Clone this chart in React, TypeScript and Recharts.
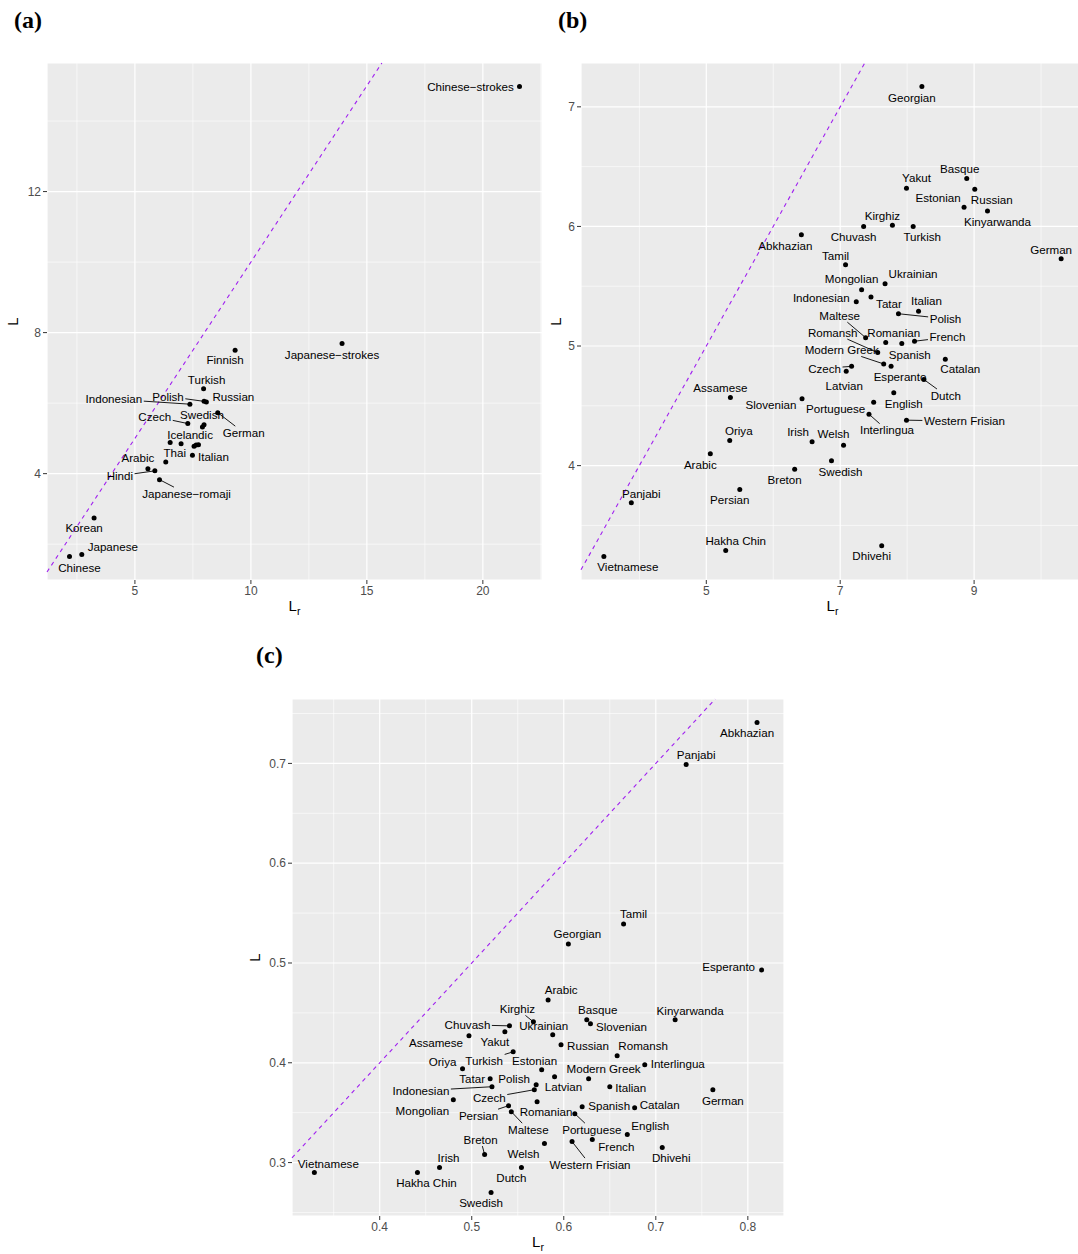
import React from 'react';
import { ScatterChart, Scatter, XAxis, YAxis, CartesianGrid, ReferenceLine, Label } from 'recharts';

const FONT = '"Liberation Sans", Arial, Helvetica, sans-serif';
const M = '\u2212';

// ---------------- Panel (a) ----------------
const langA = [
  `Chinese${M}strokes`, `Japanese${M}strokes`, 'Finnish', 'Turkish', 'Polish', 'Russian', 'Indonesian',
  'Czech', 'Swedish', 'German', '', '', 'Icelandic', '', '', '', 'Italian', 'Thai', 'Arabic', 'Hindi',
  `Japanese${M}romaji`, 'Korean', 'Japanese', 'Chinese',
];
const lrA = [21.58, 13.93, 9.32, 7.96, 7.98, 8.08, 7.37, 7.28, 7.98, 8.57, 7.91, 6.52, 6.99, 7.55, 7.64, 7.74, 7.48, 6.33, 5.56, 5.86, 6.06, 3.24, 2.71, 2.18];
const lA = [14.98, 7.69, 7.5, 6.41, 6.05, 6.03, 5.97, 5.42, 5.39, 5.73, 5.32, 4.88, 4.85, 4.78, 4.81, 4.82, 4.52, 4.33, 4.14, 4.08, 3.83, 2.74, 1.71, 1.65];
const xTicksA = [5, 10, 15, 20];
const yTicksA = [4, 8, 12];
const xMinorA = [2.5, 7.5, 12.5, 17.5, 22.5];
const yMinorA = [2, 6, 10, 14];

// ---------------- Panel (b) ----------------
const langB = [
  'Georgian', 'Basque', 'Yakut', 'Russian', 'Estonian', 'Kinyarwanda', 'Kirghiz', 'Chuvash', 'Turkish',
  'Abkhazian', 'German', 'Tamil', 'Ukrainian', 'Mongolian', 'Tatar', 'Indonesian', 'Italian', 'Polish',
  'Maltese', 'Romanian', 'Spanish', 'French', 'Romansh', 'Catalan', 'Modern Greek', 'Esperanto', 'Czech',
  'Latvian', 'Dutch', 'English', 'Assamese', 'Slovenian', 'Portuguese', 'Interlingua', 'Western Frisian',
  'Oriya', 'Irish', 'Welsh', 'Arabic', 'Swedish', 'Breton', 'Persian', 'Panjabi', 'Dhivehi', 'Hakha Chin',
  'Vietnamese',
];
const lrB = [8.22, 8.89, 7.99, 9.01, 8.85, 9.2, 7.78, 7.35, 8.09, 6.42, 10.3, 7.08, 7.67, 7.32, 7.46, 7.24, 8.17, 7.87, 7.38, 7.68, 7.92, 8.11, 7.56, 8.57, 7.65, 7.76, 7.17, 7.09, 8.25, 7.8, 5.36, 6.43, 7.5, 7.43, 7.99, 5.35, 6.58, 7.05, 5.06, 6.87, 6.32, 5.5, 3.88, 7.62, 5.29, 3.47];
const lB = [7.17, 6.4, 6.32, 6.31, 6.16, 6.13, 6.01, 6.0, 6.0, 5.93, 5.73, 5.68, 5.52, 5.47, 5.41, 5.37, 5.29, 5.27, 5.07, 5.03, 5.02, 5.04, 4.945, 4.89, 4.85, 4.83, 4.83, 4.79, 4.72, 4.61, 4.57, 4.56, 4.53, 4.43, 4.38, 4.21, 4.2, 4.17, 4.1, 4.04, 3.97, 3.8, 3.69, 3.33, 3.29, 3.24];
const xTicksB = [5, 7, 9];
const yTicksB = [4, 5, 6, 7];
const xMinorB = [4, 6, 8, 10];
const yMinorB = [3.5, 4.5, 5.5, 6.5];

// ---------------- Panel (c) ----------------
const langC = [
  'Abkhazian', 'Panjabi', 'Tamil', 'Georgian', 'Esperanto', 'Arabic', 'Basque', 'Kinyarwanda', 'Kirghiz',
  'Slovenian', 'Chuvash', 'Yakut', 'Ukrainian', 'Assamese', 'Russian', 'Turkish', 'Romansh', 'Interlingua',
  'Oriya', 'Estonian', 'Latvian', 'Modern Greek', 'Tatar', 'Polish', 'Indonesian', 'Italian', 'Czech',
  'German', 'Mongolian', 'Romanian', 'Persian', 'Spanish', 'Catalan', 'Maltese', 'Portuguese', 'English',
  'French', 'Western Frisian', 'Welsh', 'Dhivehi', 'Breton', 'Dutch', 'Irish', 'Hakha Chin', 'Vietnamese',
  'Swedish',
];
const lrC = [0.81, 0.733, 0.665, 0.605, 0.815, 0.583, 0.625, 0.721, 0.567, 0.629, 0.541, 0.536, 0.588, 0.497, 0.597, 0.545, 0.658, 0.688, 0.49, 0.576, 0.59, 0.627, 0.52, 0.57, 0.522, 0.65, 0.568, 0.762, 0.48, 0.571, 0.54, 0.62, 0.677, 0.543, 0.612, 0.669, 0.631, 0.609, 0.579, 0.707, 0.514, 0.554, 0.465, 0.441, 0.329, 0.521];
const lC = [0.741, 0.699, 0.539, 0.519, 0.493, 0.463, 0.443, 0.443, 0.441, 0.439, 0.437, 0.431, 0.428, 0.427, 0.418, 0.411, 0.407, 0.398, 0.394, 0.393, 0.386, 0.384, 0.384, 0.378, 0.376, 0.376, 0.373, 0.373, 0.363, 0.361, 0.357, 0.356, 0.355, 0.351, 0.349, 0.328, 0.323, 0.321, 0.319, 0.315, 0.308, 0.295, 0.295, 0.29, 0.29, 0.27];
const xTicksC = [0.4, 0.5, 0.6, 0.7, 0.8];
const yTicksC = [0.3, 0.4, 0.5, 0.6, 0.7];
const xMinorC = [0.35, 0.45, 0.55, 0.65, 0.75];
const yMinorC = [0.25, 0.35, 0.45, 0.55, 0.65, 0.75];

// ---------------- label layout (pixel nudge of label centre from its point; 3rd value: connector) ----------------
const nudgeA: Record<string, number[]> = {
  [`Chinese${M}strokes`]: [-49, 0], [`Japanese${M}strokes`]: [-10, 11], Finnish: [-10, 10], Turkish: [3, -9],
  Polish: [-36, -5, 1], Russian: [27, -5], Indonesian: [-76, -5, 1], Czech: [-33, -7, 1], Swedish: [-2, -10],
  German: [26, 20, 1], Icelandic: [9, -9], Italian: [21, 2], Thai: [9, -9], Arabic: [-10, -11],
  Hindi: [-35, 5, 1], [`Japanese${M}romaji`]: [27, 14, 1], Korean: [-10, 10], Japanese: [31, -8], Chinese: [10, 11],
};
const nudgeB: Record<string, number[]> = {
  Georgian: [-10, 11], Basque: [-7, -10], Yakut: [10, -10], Russian: [17, 10], Estonian: [-26, -9],
  Kinyarwanda: [10, 11], Kirghiz: [-10, -9], Chuvash: [-10, 10], Turkish: [9, 10], Abkhazian: [-16, 11],
  German: [-10, -9], Tamil: [-10, -9], Ukrainian: [28, -10], Mongolian: [-10, -11], Indonesian: [-35, -4],
  Tatar: [18, 7], Italian: [8, -11], Polish: [47, 5, 1], Maltese: [-26, -22, 1], Romansh: [-45, -20, 1],
  Romanian: [8, -10], French: [33, -4, 1], 'Modern Greek': [-42, -14, 1], Spanish: [8, 11], Catalan: [15, 10],
  Czech: [-27, 2, 1], Latvian: [-2, 15], Esperanto: [9, 10], Dutch: [22, 16, 1], English: [10, 11],
  Portuguese: [-38, 7], Interlingua: [18, 16, 1], 'Western Frisian': [58, 1, 1], Slovenian: [-31, 6],
  Assamese: [-10, -10], Oriya: [9, -10], Irish: [-14, -10], Welsh: [-10, -11], Swedish: [9, 11],
  Breton: [-10, 11], Dhivehi: [-10, 10], Arabic: [-10, 11], Persian: [-10, 10], Panjabi: [10, -9],
  'Hakha Chin': [10, -10], Vietnamese: [24, 10],
};
const nudgeC: Record<string, number[]> = {
  Abkhazian: [-10, 10], Panjabi: [10, -10], Tamil: [10, -10], Georgian: [9, -10], Esperanto: [-33, -3],
  Arabic: [13, -10], Kirghiz: [-16, -13, 1], Chuvash: [-42, -1, 1], Assamese: [-33, 7], Yakut: [-10, 10],
  Ukrainian: [-9, -9], Turkish: [-29, 9, 1], Estonian: [-7, -9], Oriya: [-20, -7], Tatar: [-18, 0],
  Polish: [-22, -6], Indonesian: [-71, 4, 1], Latvian: [9, 10], Czech: [-45, 8, 1], Mongolian: [-31, 11],
  Persian: [-30, 10, 1], Romanian: [9, 10], Maltese: [17, 18, 1], Breton: [-4, -15, 1], Welsh: [-21, 10],
  Dutch: [-10, 10], Irish: [9, -10], 'Hakha Chin': [9, 10], Swedish: [-10, 10], Vietnamese: [14, -9],
  Basque: [11, -10], Slovenian: [31, 3], Kinyarwanda: [15, -9], Russian: [27, 1], Romansh: [26, -10],
  Interlingua: [33, -1], 'Modern Greek': [15, -10], Italian: [21, 1], German: [10, 11], Spanish: [27, -1],
  Catalan: [25, -3], Portuguese: [17, 16, 1], English: [23, -9], French: [24, 7], 'Western Frisian': [18, 23, 1],
  Dhivehi: [9, 10],
};

const LABEL_FS = 11.6;
const W: Record<string, number> = {
  a: 556, b: 556, c: 500, d: 556, e: 556, f: 278, g: 556, h: 556, i: 222, j: 222, k: 500, l: 222, m: 833,
  n: 556, o: 556, p: 556, q: 556, r: 333, s: 500, t: 278, u: 556, v: 500, w: 722, x: 500, y: 500, z: 500,
  A: 667, B: 667, C: 722, D: 722, E: 667, F: 611, G: 778, H: 722, I: 278, J: 500, K: 667, L: 556, M: 833,
  N: 722, O: 778, P: 667, Q: 778, R: 722, S: 667, T: 611, U: 722, V: 667, W: 944, X: 667, Y: 667, Z: 611,
  ' ': 278, '-': 333, '\u2212': 584,
};
const textWidth = (s: string, fs: number) => s.split('').reduce((acc, ch) => acc + (W[ch] ?? 556), 0) * fs / 1000;

function expand(v: number[]): [number, number] {
  const lo = Math.min(...v);
  const hi = Math.max(...v);
  const pad = (hi - lo) * 0.05;
  return [lo - pad, hi + pad];
}

function makeShape(nudges: Record<string, number[]>) {
  return (props: any) => {
    const { cx, cy, payload } = props;
    if (cx == null || cy == null) return <g />;
    const n = payload && nudges[payload.name];
    let seg: React.ReactNode = null;
    let label: React.ReactNode = null;
    if (n) {
      const lx = cx + n[0];
      const ly = cy + n[1];
      if (n[2]) {
        const w = textWidth(payload.name, LABEL_FS) / 2 + 1.5;
        const h = 6.5;
        const dx = cx - lx;
        const dy = cy - ly;
        const t = Math.min(dx !== 0 ? w / Math.abs(dx) : Infinity, dy !== 0 ? h / Math.abs(dy) : Infinity);
        if (t < 1) {
          seg = <line x1={cx} y1={cy} x2={lx + dx * t} y2={ly + dy * t} stroke="#000" strokeWidth={0.9} />;
        }
      }
      label = (
        <text x={lx} y={ly} dy="0.36em" textAnchor="middle" fontSize={LABEL_FS} fontFamily={FONT} fill="#000">
          {payload.name}
        </text>
      );
    }
    return (
      <g>
        {seg}
        <circle cx={cx} cy={cy} r={2.5} fill="#000" />
        {label}
      </g>
    );
  };
}

type PanelProps = {
  left: number; top: number; width: number; height: number;
  margin: { top: number; right: number; bottom: number; left: number };
  yAxisWidth: number; yTitleX: number;
  names: string[]; xs: number[]; ys: number[];
  xTicks: number[]; yTicks: number[]; xMinor: number[]; yMinor: number[];
  nudges: Record<string, number[]>;
};

const tickStyle = { fill: '#4D4D4D', fontSize: 12, fontFamily: FONT };

function Panel(p: PanelProps) {
  const data = p.names.map((name, i) => ({ name, x: p.xs[i], y: p.ys[i] }));
  const xd = expand(p.xs);
  const yd = expand(p.ys);
  const lo = Math.max(xd[0], yd[0]);
  const hi = Math.min(xd[1], yd[1]);
  const shape = makeShape(p.nudges);
  return (
    <div style={{ position: 'absolute', left: p.left, top: p.top, width: p.width, height: p.height }}>
      <ScatterChart width={p.width} height={p.height} margin={p.margin}>
        <CartesianGrid fill="#EBEBEB" fillOpacity={1} stroke="#FFFFFF" strokeWidth={1.2} />
        {p.xMinor.map((v) => (
          <ReferenceLine key={'mx' + v} x={v} stroke="#FFFFFF" strokeWidth={0.6} />
        ))}
        {p.yMinor.map((v) => (
          <ReferenceLine key={'my' + v} y={v} stroke="#FFFFFF" strokeWidth={0.6} />
        ))}
        <XAxis
          type="number" dataKey="x" domain={xd} allowDataOverflow ticks={p.xTicks} interval={0}
          axisLine={false} tickLine={{ stroke: '#333333' }} tickSize={4} tick={tickStyle} height={30}
        >
          <Label
            content={(lp: any) => {
              const vb = lp.viewBox || {};
              return (
                <text x={vb.x + vb.width / 2} y={vb.y + 31} textAnchor="middle" fontFamily={FONT} fill="#000">
                  <tspan fontSize={15}>L</tspan>
                  <tspan fontSize={10.5} dy={3.5}>r</tspan>
                </text>
              );
            }}
          />
        </XAxis>
        <YAxis
          type="number" dataKey="y" domain={yd} allowDataOverflow ticks={p.yTicks} interval={0}
          axisLine={false} tickLine={{ stroke: '#333333' }} tickSize={4} tick={tickStyle} width={p.yAxisWidth}
        >
          <Label
            content={(lp: any) => {
              const vb = lp.viewBox || {};
              const x = p.yTitleX;
              const y = vb.y + vb.height / 2;
              return (
                <text x={x} y={y} dy="0.36em" textAnchor="middle" fontSize={15} fontFamily={FONT} fill="#000"
                  transform={`rotate(-90 ${x} ${y})`}>
                  L
                </text>
              );
            }}
          />
        </YAxis>
        <ReferenceLine
          segment={[{ x: lo, y: lo }, { x: hi, y: hi }]}
          stroke="#A020F0" strokeWidth={1.1} strokeDasharray="4 4" ifOverflow="visible"
        />
        <Scatter data={data} shape={shape} isAnimationActive={false} />
      </ScatterChart>
    </div>
  );
}

const tagStyle = (left: number, top: number): React.CSSProperties => ({
  position: 'absolute', left, top, fontFamily: '"Liberation Serif", "Times New Roman", serif',
  fontWeight: 'bold', fontSize: 24, lineHeight: '24px', color: '#000',
});

export default function App() {
  return (
    <div style={{ position: 'absolute', left: 0, top: 0, width: 1078, height: 1254, overflow: 'hidden', background: '#FFFFFF' }}>
      <Panel
        left={0} top={0} width={560} height={625} margin={{ top: 63, right: 18, bottom: 15, left: 0 }}
        yAxisWidth={47} yTitleX={13}
        names={langA} xs={lrA} ys={lA} xTicks={xTicksA} yTicks={yTicksA} xMinor={xMinorA} yMinor={yMinorA}
        nudges={nudgeA}
      />
      <Panel
        left={530} top={0} width={554} height={625} margin={{ top: 63, right: 0, bottom: 15, left: 0 }}
        yAxisWidth={51} yTitleX={26}
        names={langB} xs={lrB} ys={lB} xTicks={xTicksB} yTicks={yTicksB} xMinor={xMinorB} yMinor={yMinorB}
        nudges={nudgeB}
      />
      <Panel
        left={240} top={640} width={560} height={614} margin={{ top: 59, right: 16, bottom: 8, left: 0 }}
        yAxisWidth={52} yTitleX={15}
        names={langC} xs={lrC} ys={lC} xTicks={xTicksC} yTicks={yTicksC} xMinor={xMinorC} yMinor={yMinorC}
        nudges={nudgeC}
      />
      <div style={tagStyle(14, 8)}>(a)</div>
      <div style={tagStyle(558, 8)}>(b)</div>
      <div style={tagStyle(256, 643)}>(c)</div>
    </div>
  );
}
